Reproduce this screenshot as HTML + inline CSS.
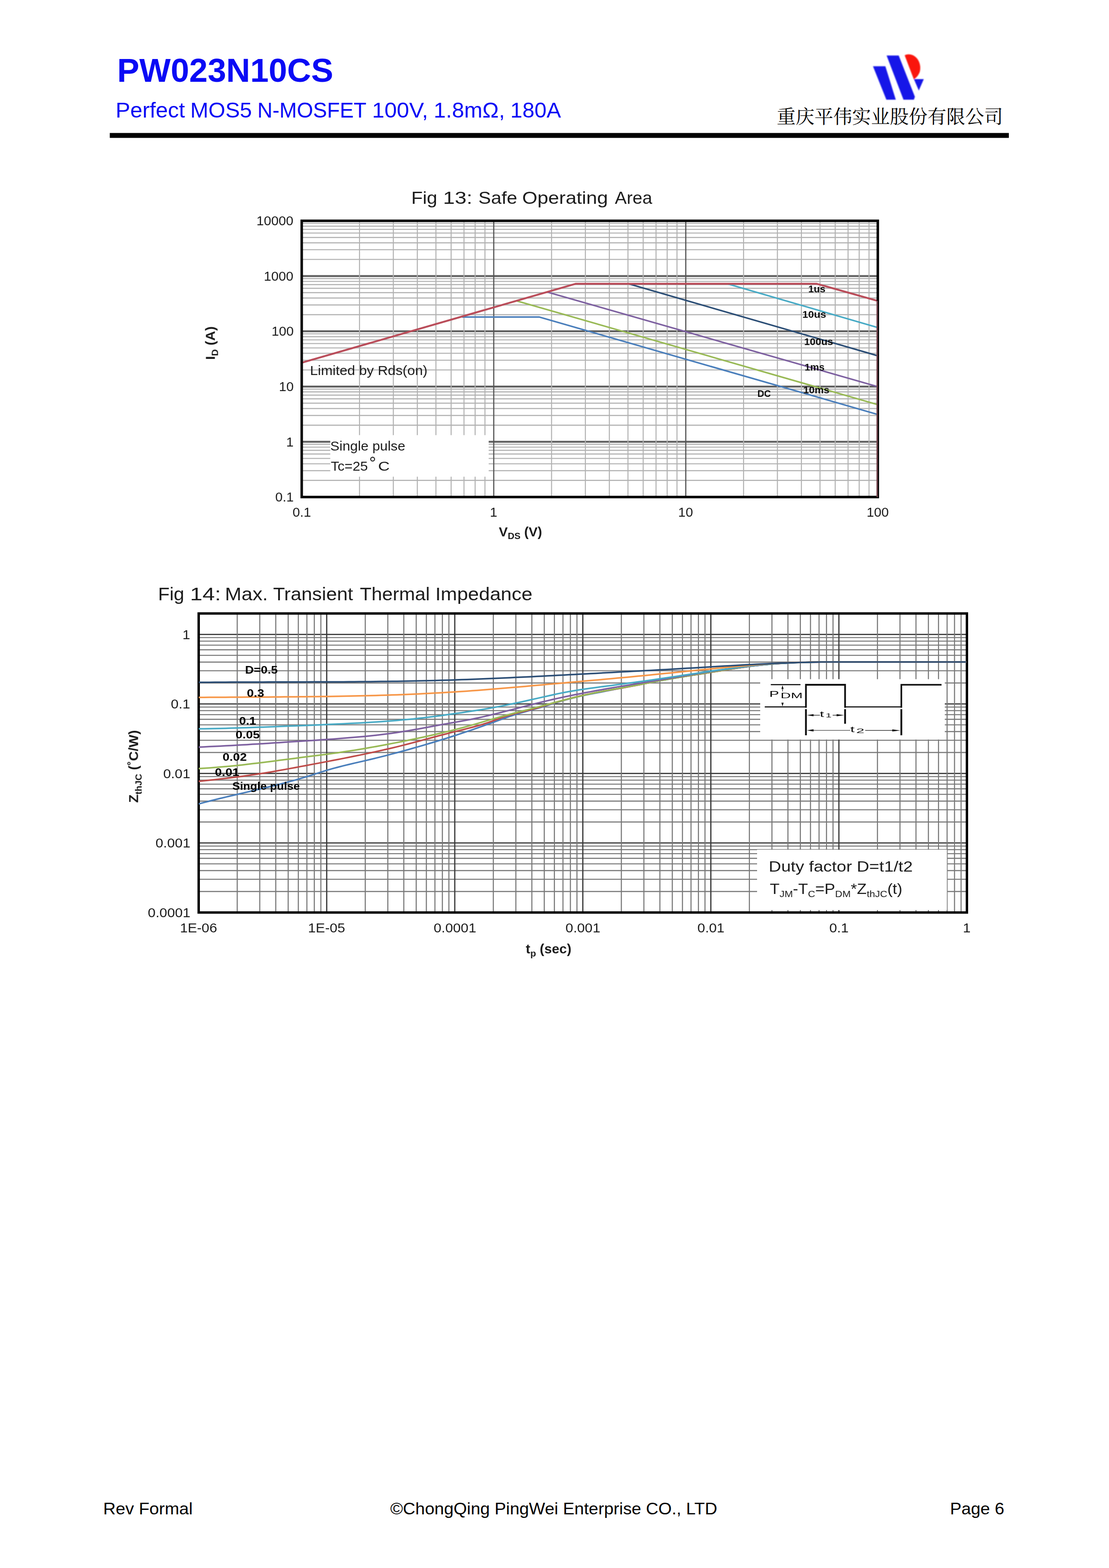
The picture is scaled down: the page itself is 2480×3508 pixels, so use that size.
<!DOCTYPE html>
<html><head><meta charset="utf-8"><title>PW023N10CS</title>
<style>
html,body{margin:0;padding:0;background:#fff;}
body{width:2480px;height:3508px;overflow:hidden;}
svg{display:block;font-family:'Liberation Sans',sans-serif;}
</style></head><body>
<svg width="2480" height="3508" viewBox="0 0 2480 3508">
<defs><filter id="soft" x="-2%" y="-2%" width="104%" height="104%"><feGaussianBlur stdDeviation="0.6"/></filter><filter id="soft2" x="-10%" y="-10%" width="120%" height="120%"><feGaussianBlur stdDeviation="0.9"/></filter></defs>
<rect width="2480" height="3508" fill="#fff"/>
<g id="header">
<text x="262.0" y="183.2" font-size="73.7" font-weight="bold" fill="#0a0af5" textLength="483.3" lengthAdjust="spacingAndGlyphs">PW023N10CS</text>
<text x="258.5" y="263.4" font-size="48.5" fill="#0a0af5" textLength="155.2" lengthAdjust="spacingAndGlyphs">Perfect</text>
<text x="425.6" y="263.4" font-size="48.5" fill="#0a0af5" textLength="137.8" lengthAdjust="spacingAndGlyphs">MOS5</text>
<text x="575.5" y="263.4" font-size="48.5" fill="#0a0af5" textLength="243.9" lengthAdjust="spacingAndGlyphs">N-MOSFET</text>
<text x="832.0" y="263.4" font-size="48.5" fill="#0a0af5" textLength="125.4" lengthAdjust="spacingAndGlyphs">100V,</text>
<text x="969.8" y="263.4" font-size="48.5" fill="#0a0af5" textLength="159.3" lengthAdjust="spacingAndGlyphs">1.8mΩ,</text>
<text x="1141.3" y="263.4" font-size="48.5" fill="#0a0af5" textLength="113.2" lengthAdjust="spacingAndGlyphs">180A</text>
<rect x="245.5" y="297.5" width="2010.5" height="11" fill="#000"/>
<g id="logo" filter="url(#soft2)">
<polygon points="1952.2,148.2 1979.9,148.2 2003.2,223.1 1982.1,223.1" fill="#1616e8"/>
<polygon points="1982.7,124.2 2009.8,124.2 2045.9,216.4 2043.7,223.1 2020.4,223.1" fill="#1616e8"/>
<path d="M2023.1,123.8 C2031,119.5 2042,121.5 2050,130 C2057,138 2059.5,150 2057,160 C2054.5,168 2049,174 2043.5,177.5 Z" fill="#fa1408"/>
<polygon points="2043.7,177.1 2065.8,177.1 2054.7,202.6" fill="#1616e8"/>
</g>
<g id="cn" fill="#000">
<text x="1737" y="276.2" font-size="42.15" fill="#000" textLength="505.8" lengthAdjust="spacingAndGlyphs" style="font-family:'Liberation Serif','Noto Serif CJK SC',serif;">重庆平伟实业股份有限公司</text>
</g>
</g>
<g id="chart1" filter="url(#soft)">
<text x="919.7" y="455.5" font-size="39.6" fill="#1a1a1a" textLength="58.2" lengthAdjust="spacingAndGlyphs">Fig</text>
<text x="990.7" y="455.5" font-size="39.6" fill="#1a1a1a" textLength="65.7" lengthAdjust="spacingAndGlyphs">13:</text>
<text x="1069.8" y="455.5" font-size="39.6" fill="#1a1a1a" textLength="86.8" lengthAdjust="spacingAndGlyphs">Safe</text>
<text x="1167.7" y="455.5" font-size="39.6" fill="#1a1a1a" textLength="192.0" lengthAdjust="spacingAndGlyphs">Operating</text>
<text x="1375.0" y="455.5" font-size="39.6" fill="#1a1a1a" textLength="83.6" lengthAdjust="spacingAndGlyphs">Area</text>
<path d="M674.7,1074.79H1963.0M674.7,1053.03H1963.0M674.7,1037.59H1963.0M674.7,1025.61H1963.0M674.7,1015.82H1963.0M674.7,1007.55H1963.0M674.7,1000.38H1963.0M674.7,994.06H1963.0M674.7,951.19H1963.0M674.7,929.43H1963.0M674.7,913.99H1963.0M674.7,902.01H1963.0M674.7,892.22H1963.0M674.7,883.95H1963.0M674.7,876.78H1963.0M674.7,870.46H1963.0M674.7,827.59H1963.0M674.7,805.83H1963.0M674.7,790.39H1963.0M674.7,778.41H1963.0M674.7,768.62H1963.0M674.7,760.35H1963.0M674.7,753.18H1963.0M674.7,746.86H1963.0M674.7,703.99H1963.0M674.7,682.23H1963.0M674.7,666.79H1963.0M674.7,654.81H1963.0M674.7,645.02H1963.0M674.7,636.75H1963.0M674.7,629.58H1963.0M674.7,623.26H1963.0M674.7,580.39H1963.0M674.7,558.63H1963.0M674.7,543.19H1963.0M674.7,531.21H1963.0M674.7,521.42H1963.0M674.7,513.15H1963.0M674.7,505.98H1963.0M674.7,499.66H1963.0" stroke="#b2b2b2" stroke-width="2.4" fill="none"/>
<path d="M674.7,988.40H1963.0M674.7,864.80H1963.0M674.7,741.20H1963.0M674.7,617.60H1963.0" stroke="#5e5e5e" stroke-width="4.2" fill="none"/>
<path d="M803.97,494.0V1112.0M879.59,494.0V1112.0M933.24,494.0V1112.0M974.86,494.0V1112.0M1008.86,494.0V1112.0M1037.61,494.0V1112.0M1062.52,494.0V1112.0M1084.48,494.0V1112.0M1233.41,494.0V1112.0M1309.03,494.0V1112.0M1362.68,494.0V1112.0M1404.29,494.0V1112.0M1438.30,494.0V1112.0M1467.05,494.0V1112.0M1491.95,494.0V1112.0M1513.92,494.0V1112.0M1662.84,494.0V1112.0M1738.46,494.0V1112.0M1792.11,494.0V1112.0M1833.73,494.0V1112.0M1867.73,494.0V1112.0M1896.48,494.0V1112.0M1921.38,494.0V1112.0M1943.35,494.0V1112.0" stroke="#b2b2b2" stroke-width="2.3" fill="none"/>
<path d="M1104.13,494.0V1112.0M1533.57,494.0V1112.0" stroke="#555" stroke-width="2.6" fill="none"/>
<rect x="738.6" y="973.5" width="354.2" height="93" fill="#fff"/>
<polyline points="1033.5,709.2 1205.5,709.2 1963.0,927.3" stroke="#4a7ebb" stroke-width="3.4" fill="none" stroke-linejoin="round"/>
<polyline points="1156.0,673.3 1963.0,905.3" stroke="#98b954" stroke-width="3.4" fill="none" stroke-linejoin="round"/>
<polyline points="1224.5,653.6 1963.0,865.1" stroke="#7d60a0" stroke-width="3.4" fill="none" stroke-linejoin="round"/>
<polyline points="1626.4,634.9 1963.0,732.8" stroke="#46aac5" stroke-width="3.4" fill="none" stroke-linejoin="round"/>
<polyline points="1405.5,634.9 1963.0,796.0" stroke="#2c4d75" stroke-width="3.4" fill="none" stroke-linejoin="round"/>
<polyline points="674.7,811.5 1287.0,634.9 1826.6,634.9 1963.0,673.2" stroke="#ba4e5a" stroke-width="4.2" fill="none" stroke-linejoin="round"/>
<rect x="674.7" y="494.0" width="1288.3" height="618.0" fill="none" stroke="#000" stroke-width="5.6"/>
<path d="M1961.6,673V1112.0" stroke="#78464f" stroke-width="2.9" fill="none"/>
<text x="615.5" y="1122.2" font-size="29" fill="#1a1a1a" textLength="41.4" lengthAdjust="spacingAndGlyphs">0.1</text>
<text x="640.1" y="998.6" font-size="29" fill="#1a1a1a" textLength="16.6" lengthAdjust="spacingAndGlyphs">1</text>
<text x="623.7" y="875.0" font-size="29" fill="#1a1a1a" textLength="33.1" lengthAdjust="spacingAndGlyphs">10</text>
<text x="607.3" y="751.4" font-size="29" fill="#1a1a1a" textLength="49.6" lengthAdjust="spacingAndGlyphs">100</text>
<text x="589.9" y="627.8" font-size="29" fill="#1a1a1a" textLength="66.2" lengthAdjust="spacingAndGlyphs">1000</text>
<text x="573.4" y="504.2" font-size="29" fill="#1a1a1a" textLength="82.7" lengthAdjust="spacingAndGlyphs">10000</text>
<text x="654.2" y="1155.8" font-size="29" fill="#1a1a1a" textLength="41.4" lengthAdjust="spacingAndGlyphs">0.1</text>
<text x="1095.4" y="1155.8" font-size="29" fill="#1a1a1a" textLength="16.6" lengthAdjust="spacingAndGlyphs">1</text>
<text x="1516.6" y="1155.8" font-size="29" fill="#1a1a1a" textLength="33.1" lengthAdjust="spacingAndGlyphs">10</text>
<text x="1937.9" y="1155.8" font-size="29" fill="#1a1a1a" textLength="49.6" lengthAdjust="spacingAndGlyphs">100</text>
<text transform="translate(480.5,803) rotate(-90)" x="-2.1" y="0" font-size="29.8" font-weight="bold" fill="#1a1a1a" textLength="75.0" lengthAdjust="spacingAndGlyphs">I<tspan font-size="20.5" dy="7">D</tspan><tspan dy="-7"> (A)</tspan></text>
<text x="1115.5" y="1199.8" font-size="29.8" font-weight="bold" fill="#1a1a1a" textLength="96.6" lengthAdjust="spacingAndGlyphs">V<tspan font-size="20.5" dy="6.5">DS</tspan><tspan dy="-6.5"> (V)</tspan></text>
<text x="693.3" y="838.5" font-size="30" fill="#1a1a1a" textLength="262.7" lengthAdjust="spacingAndGlyphs">Limited by Rds(on)</text>
<text x="738.6" y="1008" font-size="30" fill="#1a1a1a" textLength="167.7" lengthAdjust="spacingAndGlyphs">Single pulse</text>
<text x="739.7" y="1052.6" font-size="30" fill="#1a1a1a" textLength="82.9" lengthAdjust="spacingAndGlyphs">Tc=25</text>
<text x="845.5" y="1052.6" font-size="30" fill="#1a1a1a" textLength="26.0" lengthAdjust="spacingAndGlyphs">C</text>
<circle cx="833.3" cy="1027.2" r="4.3" fill="none" stroke="#1a1a1a" stroke-width="2.2"/>
<text x="1807.4" y="653.9" font-size="22.5" font-weight="bold" fill="#111" textLength="38.4" lengthAdjust="spacingAndGlyphs">1us</text>
<text x="1794.2" y="710.8" font-size="22.5" font-weight="bold" fill="#111" textLength="53.2" lengthAdjust="spacingAndGlyphs">10us</text>
<text x="1798.3" y="771.8" font-size="22.5" font-weight="bold" fill="#111" textLength="64.8" lengthAdjust="spacingAndGlyphs">100us</text>
<text x="1799.3" y="829.4" font-size="22.5" font-weight="bold" fill="#111" textLength="44.7" lengthAdjust="spacingAndGlyphs">1ms</text>
<text x="1796.3" y="880.2" font-size="22.5" font-weight="bold" fill="#111" textLength="58.5" lengthAdjust="spacingAndGlyphs">10ms</text>
<text x="1693.7" y="887.7" font-size="22.5" font-weight="bold" fill="#111" textLength="30.2" lengthAdjust="spacingAndGlyphs">DC</text>
</g>
<g id="chart2" filter="url(#soft)">
<text x="353.4" y="1342.7" font-size="40" fill="#1a1a1a" textLength="58.6" lengthAdjust="spacingAndGlyphs">Fig</text>
<text x="425.0" y="1342.7" font-size="40" fill="#1a1a1a" textLength="69.2" lengthAdjust="spacingAndGlyphs">14:</text>
<text x="503.1" y="1342.7" font-size="40" fill="#1a1a1a" textLength="96.1" lengthAdjust="spacingAndGlyphs">Max.</text>
<text x="610.7" y="1342.7" font-size="40" fill="#1a1a1a" textLength="178.9" lengthAdjust="spacingAndGlyphs">Transient</text>
<text x="804.8" y="1342.7" font-size="40" fill="#1a1a1a" textLength="156.4" lengthAdjust="spacingAndGlyphs">Thermal</text>
<text x="973.4" y="1342.7" font-size="40" fill="#1a1a1a" textLength="217.3" lengthAdjust="spacingAndGlyphs">Impedance</text>
<path d="M444.3,1994.49H2162.3M444.3,1967.11H2162.3M444.3,1947.68H2162.3M444.3,1932.61H2162.3M444.3,1920.30H2162.3M444.3,1909.89H2162.3M444.3,1900.87H2162.3M444.3,1892.92H2162.3M444.3,1838.99H2162.3M444.3,1811.61H2162.3M444.3,1792.18H2162.3M444.3,1777.11H2162.3M444.3,1764.80H2162.3M444.3,1754.39H2162.3M444.3,1745.37H2162.3M444.3,1737.42H2162.3M444.3,1683.49H2162.3M444.3,1656.11H2162.3M444.3,1636.68H2162.3M444.3,1621.61H2162.3M444.3,1609.30H2162.3M444.3,1598.89H2162.3M444.3,1589.87H2162.3M444.3,1581.92H2162.3M444.3,1527.99H2162.3M444.3,1500.61H2162.3M444.3,1481.18H2162.3M444.3,1466.11H2162.3M444.3,1453.80H2162.3M444.3,1443.39H2162.3M444.3,1434.37H2162.3M444.3,1426.42H2162.3" stroke="#787878" stroke-width="2.4" fill="none"/>
<path d="M444.3,1419.30H2162.3M444.3,1574.80H2162.3M444.3,1730.30H2162.3M444.3,1885.80H2162.3" stroke="#3c3c3c" stroke-width="2.8" fill="none"/>
<path d="M530.49,1372.5V2041.5M580.92,1372.5V2041.5M616.69,1372.5V2041.5M644.44,1372.5V2041.5M667.11,1372.5V2041.5M686.28,1372.5V2041.5M702.88,1372.5V2041.5M717.53,1372.5V2041.5M816.83,1372.5V2041.5M867.25,1372.5V2041.5M903.02,1372.5V2041.5M930.77,1372.5V2041.5M953.44,1372.5V2041.5M972.61,1372.5V2041.5M989.22,1372.5V2041.5M1003.86,1372.5V2041.5M1103.16,1372.5V2041.5M1153.58,1372.5V2041.5M1189.36,1372.5V2041.5M1217.11,1372.5V2041.5M1239.78,1372.5V2041.5M1258.95,1372.5V2041.5M1275.55,1372.5V2041.5M1290.20,1372.5V2041.5M1389.49,1372.5V2041.5M1439.92,1372.5V2041.5M1475.69,1372.5V2041.5M1503.44,1372.5V2041.5M1526.11,1372.5V2041.5M1545.28,1372.5V2041.5M1561.88,1372.5V2041.5M1576.53,1372.5V2041.5M1675.83,1372.5V2041.5M1726.25,1372.5V2041.5M1762.02,1372.5V2041.5M1789.77,1372.5V2041.5M1812.44,1372.5V2041.5M1831.61,1372.5V2041.5M1848.22,1372.5V2041.5M1862.86,1372.5V2041.5M1962.16,1372.5V2041.5M2012.58,1372.5V2041.5M2048.36,1372.5V2041.5M2076.11,1372.5V2041.5M2098.78,1372.5V2041.5M2117.95,1372.5V2041.5M2134.55,1372.5V2041.5M2149.20,1372.5V2041.5" stroke="#787878" stroke-width="2.4" fill="none"/>
<path d="M730.63,1372.5V2041.5M1016.97,1372.5V2041.5M1303.30,1372.5V2041.5M1589.63,1372.5V2041.5M1875.97,1372.5V2041.5" stroke="#3c3c3c" stroke-width="2.8" fill="none"/>
<rect x="1700" y="1519.5" width="412.8" height="135" fill="#fff"/>
<rect x="1693" y="1901" width="424.5" height="135" fill="#fff"/>
<rect x="444.3" y="1372.5" width="1718.0000000000002" height="669.0" fill="none" stroke="#000" stroke-width="5.4"/>
<path d="M444.3,1798.6 L456.3,1795.4 L468.3,1792.3 L480.3,1789.3 L492.3,1786.3 L504.3,1783.4 L516.3,1780.5 L528.3,1777.7 L540.3,1774.9 L552.3,1772.1 L564.3,1769.2 L576.3,1766.4 L588.3,1763.6 L600.3,1760.7 L612.3,1757.7 L624.3,1754.7 L636.3,1751.6 L648.3,1748.4 L660.3,1745.1 L672.3,1741.6 L684.3,1738.0 L696.3,1734.3 L708.3,1730.4 L720.3,1726.6 L732.3,1722.9 L744.3,1719.4 L756.3,1716.2 L768.3,1713.1 L780.3,1710.2 L792.3,1707.4 L804.3,1704.6 L816.3,1701.9 L828.3,1699.0 L840.3,1696.1 L852.3,1693.1 L864.3,1690.1 L876.3,1686.9 L888.3,1683.8 L900.3,1680.5 L912.3,1677.2 L924.3,1673.8 L936.3,1670.4 L948.3,1666.9 L960.3,1663.3 L972.3,1659.7 L984.3,1656.0 L996.3,1652.3 L1008.3,1648.5 L1020.3,1644.6 L1032.3,1640.6 L1044.3,1636.6 L1056.3,1632.6 L1068.3,1628.4 L1080.3,1624.2 L1092.3,1619.9 L1104.3,1615.6 L1116.3,1611.2 L1128.3,1606.8 L1140.3,1602.6 L1152.3,1598.7 L1164.3,1595.1 L1176.3,1591.7 L1188.3,1588.4 L1200.3,1585.1 L1212.3,1581.8 L1224.3,1578.1 L1236.3,1574.4 L1248.3,1570.6 L1260.3,1567.0 L1272.3,1563.7 L1284.3,1560.7 L1296.3,1557.9 L1308.3,1555.3 L1320.3,1552.9 L1332.3,1550.5 L1344.3,1548.2 L1356.3,1545.8 L1368.3,1543.5 L1380.3,1541.1 L1392.3,1538.8 L1404.3,1536.4 L1416.3,1534.1 L1428.3,1531.8 L1440.3,1529.5 L1452.3,1527.2 L1464.3,1525.0 L1476.3,1522.8 L1488.3,1520.7 L1500.3,1518.6 L1512.3,1516.6 L1524.3,1514.6 L1536.3,1512.6 L1548.3,1510.6 L1560.3,1508.7 L1572.3,1506.7 L1584.3,1504.8 L1596.3,1502.8 L1608.3,1500.9 L1620.3,1499.0 L1632.3,1497.1 L1644.3,1495.2 L1656.3,1493.5 L1668.3,1491.8 L1680.3,1490.2 L1692.3,1488.8 L1704.3,1487.5 L1716.3,1486.4 L1728.3,1485.4 L1740.3,1484.5 L1752.3,1483.8 L1764.3,1483.2 L1776.3,1482.6 L1788.3,1482.2 L1800.3,1481.9 L1812.3,1481.6 L1824.3,1481.4 L1836.3,1481.2 L1848.3,1481.1 L1860.0,1481.0 L2160.5,1481.0" stroke="#4a7ebb" stroke-width="3.5" fill="none" stroke-linejoin="round"/>
<path d="M444.3,1748.1 L456.3,1746.8 L468.3,1745.5 L480.3,1744.2 L492.3,1742.8 L504.3,1741.4 L516.3,1740.0 L528.3,1738.5 L540.3,1736.9 L552.3,1735.3 L564.3,1733.6 L576.3,1731.8 L588.3,1729.9 L600.3,1727.9 L612.3,1725.9 L624.3,1723.8 L636.3,1721.6 L648.3,1719.4 L660.3,1717.2 L672.3,1714.9 L684.3,1712.7 L696.3,1710.4 L708.3,1708.1 L720.3,1705.9 L732.3,1703.6 L744.3,1701.3 L756.3,1699.0 L768.3,1696.6 L780.3,1694.2 L792.3,1691.8 L804.3,1689.4 L816.3,1686.9 L828.3,1684.3 L840.3,1681.7 L852.3,1679.0 L864.3,1676.3 L876.3,1673.5 L888.3,1670.6 L900.3,1667.6 L912.3,1664.5 L924.3,1661.4 L936.3,1658.2 L948.3,1654.9 L960.3,1651.7 L972.3,1648.5 L984.3,1645.3 L996.3,1642.2 L1008.3,1639.1 L1020.3,1636.1 L1032.3,1633.2 L1044.3,1630.1 L1056.3,1627.0 L1068.3,1623.7 L1080.3,1620.2 L1092.3,1616.3 L1104.3,1612.1 L1116.3,1607.6 L1128.3,1603.4 L1140.3,1599.7 L1152.3,1596.4 L1164.3,1593.4 L1176.3,1590.4 L1188.3,1587.3 L1200.3,1584.0 L1212.3,1580.5 L1224.3,1576.9 L1236.3,1573.3 L1248.3,1569.8 L1260.3,1566.5 L1272.3,1563.3 L1284.3,1560.2 L1296.3,1557.3 L1308.3,1554.5 L1320.3,1551.9 L1332.3,1549.4 L1344.3,1547.1 L1356.3,1545.0 L1368.3,1543.0 L1380.3,1541.0 L1392.3,1539.0 L1404.3,1536.9 L1416.3,1534.6 L1428.3,1532.2 L1440.3,1529.7 L1452.3,1527.3 L1464.3,1524.9 L1476.3,1522.6 L1488.3,1520.3 L1500.3,1518.2 L1512.3,1516.2 L1524.3,1514.3 L1536.3,1512.4 L1548.3,1510.5 L1560.3,1508.7 L1572.3,1506.9 L1584.3,1505.0 L1596.3,1503.1 L1608.3,1501.2 L1620.3,1499.2 L1632.3,1497.3 L1644.3,1495.4 L1656.3,1493.6 L1668.3,1491.9 L1680.3,1490.2 L1692.3,1488.8 L1704.3,1487.4 L1716.3,1486.3 L1728.3,1485.3 L1740.3,1484.4 L1752.3,1483.7 L1764.3,1483.1 L1776.3,1482.6 L1788.3,1482.2 L1800.3,1481.9 L1812.3,1481.6 L1824.3,1481.4 L1836.3,1481.2 L1848.3,1481.1 L1860.0,1481.0 L2160.5,1481.0" stroke="#be4b48" stroke-width="3.5" fill="none" stroke-linejoin="round"/>
<path d="M444.3,1719.4 L456.3,1718.8 L468.3,1718.0 L480.3,1717.1 L492.3,1716.1 L504.3,1715.1 L516.3,1713.9 L528.3,1712.7 L540.3,1711.4 L552.3,1710.1 L564.3,1708.6 L576.3,1707.2 L588.3,1705.7 L600.3,1704.2 L612.3,1702.7 L624.3,1701.1 L636.3,1699.5 L648.3,1698.0 L660.3,1696.4 L672.3,1694.8 L684.3,1693.3 L696.3,1691.8 L708.3,1690.3 L720.3,1688.8 L732.3,1687.2 L744.3,1685.6 L756.3,1683.9 L768.3,1682.1 L780.3,1680.3 L792.3,1678.4 L804.3,1676.4 L816.3,1674.4 L828.3,1672.3 L840.3,1670.2 L852.3,1668.0 L864.3,1665.7 L876.3,1663.4 L888.3,1661.1 L900.3,1658.7 L912.3,1656.3 L924.3,1653.8 L936.3,1651.3 L948.3,1648.7 L960.3,1646.0 L972.3,1643.3 L984.3,1640.5 L996.3,1637.6 L1008.3,1634.7 L1020.3,1631.6 L1032.3,1628.5 L1044.3,1625.2 L1056.3,1621.9 L1068.3,1618.4 L1080.3,1614.9 L1092.3,1611.4 L1104.3,1607.9 L1116.3,1604.5 L1128.3,1601.2 L1140.3,1598.0 L1152.3,1594.8 L1164.3,1591.7 L1176.3,1588.7 L1188.3,1585.6 L1200.3,1582.4 L1212.3,1579.2 L1224.3,1576.0 L1236.3,1572.8 L1248.3,1569.6 L1260.3,1566.5 L1272.3,1563.4 L1284.3,1560.5 L1296.3,1557.6 L1308.3,1554.8 L1320.3,1552.1 L1332.3,1549.5 L1344.3,1547.1 L1356.3,1544.9 L1368.3,1542.7 L1380.3,1540.6 L1392.3,1538.6 L1404.3,1536.4 L1416.3,1534.2 L1428.3,1532.0 L1440.3,1529.7 L1452.3,1527.4 L1464.3,1525.1 L1476.3,1522.9 L1488.3,1520.7 L1500.3,1518.6 L1512.3,1516.5 L1524.3,1514.5 L1536.3,1512.5 L1548.3,1510.6 L1560.3,1508.6 L1572.3,1506.7 L1584.3,1504.7 L1596.3,1502.8 L1608.3,1500.9 L1620.3,1499.0 L1632.3,1497.1 L1644.3,1495.2 L1656.3,1493.5 L1668.3,1491.8 L1680.3,1490.3 L1692.3,1488.8 L1704.3,1487.5 L1716.3,1486.4 L1728.3,1485.4 L1740.3,1484.5 L1752.3,1483.8 L1764.3,1483.2 L1776.3,1482.6 L1788.3,1482.2 L1800.3,1481.8 L1812.3,1481.5 L1824.3,1481.3 L1836.3,1481.2 L1848.3,1481.1 L1860.0,1481.0 L2160.5,1481.0" stroke="#98b954" stroke-width="3.5" fill="none" stroke-linejoin="round"/>
<path d="M444.3,1671.4 L456.3,1670.9 L468.3,1670.3 L480.3,1669.8 L492.3,1669.2 L504.3,1668.5 L516.3,1667.9 L528.3,1667.2 L540.3,1666.6 L552.3,1665.9 L564.3,1665.1 L576.3,1664.4 L588.3,1663.7 L600.3,1662.9 L612.3,1662.1 L624.3,1661.4 L636.3,1660.6 L648.3,1659.8 L660.3,1659.0 L672.3,1658.2 L684.3,1657.4 L696.3,1656.7 L708.3,1655.9 L720.3,1655.1 L732.3,1654.3 L744.3,1653.4 L756.3,1652.5 L768.3,1651.6 L780.3,1650.6 L792.3,1649.6 L804.3,1648.5 L816.3,1647.4 L828.3,1646.2 L840.3,1644.9 L852.3,1643.5 L864.3,1642.0 L876.3,1640.4 L888.3,1638.7 L900.3,1636.8 L912.3,1634.9 L924.3,1632.8 L936.3,1630.7 L948.3,1628.5 L960.3,1626.2 L972.3,1624.0 L984.3,1621.8 L996.3,1619.6 L1008.3,1617.5 L1020.3,1615.4 L1032.3,1613.3 L1044.3,1611.1 L1056.3,1608.7 L1068.3,1606.2 L1080.3,1603.6 L1092.3,1600.8 L1104.3,1597.9 L1116.3,1595.0 L1128.3,1591.9 L1140.3,1588.9 L1152.3,1585.8 L1164.3,1582.6 L1176.3,1579.5 L1188.3,1576.5 L1200.3,1573.4 L1212.3,1570.5 L1224.3,1567.6 L1236.3,1564.8 L1248.3,1562.1 L1260.3,1559.5 L1272.3,1557.0 L1284.3,1554.5 L1296.3,1552.2 L1308.3,1549.8 L1320.3,1547.6 L1332.3,1545.3 L1344.3,1543.2 L1356.3,1541.0 L1368.3,1539.0 L1380.3,1536.9 L1392.3,1534.9 L1404.3,1532.9 L1416.3,1530.9 L1428.3,1528.9 L1440.3,1526.9 L1452.3,1524.9 L1464.3,1522.9 L1476.3,1520.9 L1488.3,1518.9 L1500.3,1516.9 L1512.3,1514.9 L1524.3,1512.9 L1536.3,1510.9 L1548.3,1509.0 L1560.3,1507.0 L1572.3,1505.1 L1584.3,1503.2 L1596.3,1501.4 L1608.3,1499.6 L1620.3,1497.8 L1632.3,1496.1 L1644.3,1494.5 L1656.3,1493.0 L1668.3,1491.5 L1680.3,1490.1 L1692.3,1488.9 L1704.3,1487.7 L1716.3,1486.6 L1728.3,1485.6 L1740.3,1484.7 L1752.3,1483.9 L1764.3,1483.2 L1776.3,1482.6 L1788.3,1482.1 L1800.3,1481.7 L1812.3,1481.4 L1824.3,1481.1 L1836.3,1481.0 L1848.3,1481.0 L1860.0,1481.0 L2160.5,1481.0" stroke="#7d60a0" stroke-width="3.5" fill="none" stroke-linejoin="round"/>
<path d="M444.3,1630.6 L456.3,1630.4 L468.3,1630.2 L480.3,1629.9 L492.3,1629.7 L504.3,1629.4 L516.3,1629.0 L528.3,1628.7 L540.3,1628.3 L552.3,1627.9 L564.3,1627.5 L576.3,1627.1 L588.3,1626.7 L600.3,1626.2 L612.3,1625.8 L624.3,1625.3 L636.3,1624.8 L648.3,1624.3 L660.3,1623.9 L672.3,1623.4 L684.3,1622.9 L696.3,1622.4 L708.3,1621.9 L720.3,1621.4 L732.3,1620.8 L744.3,1620.3 L756.3,1619.8 L768.3,1619.2 L780.3,1618.6 L792.3,1618.0 L804.3,1617.4 L816.3,1616.7 L828.3,1616.0 L840.3,1615.2 L852.3,1614.4 L864.3,1613.6 L876.3,1612.7 L888.3,1611.7 L900.3,1610.6 L912.3,1609.5 L924.3,1608.4 L936.3,1607.1 L948.3,1605.8 L960.3,1604.3 L972.3,1602.8 L984.3,1601.2 L996.3,1599.5 L1008.3,1597.8 L1020.3,1596.1 L1032.3,1594.4 L1044.3,1592.6 L1056.3,1590.8 L1068.3,1589.0 L1080.3,1587.0 L1092.3,1585.0 L1104.3,1582.9 L1116.3,1580.6 L1128.3,1578.3 L1140.3,1575.8 L1152.3,1573.3 L1164.3,1570.7 L1176.3,1568.0 L1188.3,1565.3 L1200.3,1562.6 L1212.3,1559.9 L1224.3,1557.2 L1236.3,1554.5 L1248.3,1551.9 L1260.3,1549.5 L1272.3,1547.3 L1284.3,1545.2 L1296.3,1543.3 L1308.3,1541.5 L1320.3,1539.8 L1332.3,1538.2 L1344.3,1536.6 L1356.3,1535.0 L1368.3,1533.4 L1380.3,1531.8 L1392.3,1530.2 L1404.3,1528.6 L1416.3,1527.0 L1428.3,1525.3 L1440.3,1523.7 L1452.3,1522.0 L1464.3,1520.3 L1476.3,1518.5 L1488.3,1516.8 L1500.3,1515.0 L1512.3,1513.2 L1524.3,1511.3 L1536.3,1509.5 L1548.3,1507.7 L1560.3,1505.9 L1572.3,1504.1 L1584.3,1502.3 L1596.3,1500.5 L1608.3,1498.8 L1620.3,1497.2 L1632.3,1495.6 L1644.3,1494.0 L1656.3,1492.6 L1668.3,1491.1 L1680.3,1489.8 L1692.3,1488.6 L1704.3,1487.5 L1716.3,1486.4 L1728.3,1485.5 L1740.3,1484.6 L1752.3,1483.9 L1764.3,1483.2 L1776.3,1482.6 L1788.3,1482.1 L1800.3,1481.7 L1812.3,1481.4 L1824.3,1481.2 L1836.3,1481.0 L1848.3,1481.0 L1860.0,1481.0 L2160.5,1481.0" stroke="#46aac5" stroke-width="3.5" fill="none" stroke-linejoin="round"/>
<path d="M444.3,1560.3 L456.3,1560.2 L468.3,1560.1 L480.3,1560.0 L492.3,1559.9 L504.3,1559.9 L516.3,1559.8 L528.3,1559.7 L540.3,1559.7 L552.3,1559.6 L564.3,1559.6 L576.3,1559.5 L588.3,1559.4 L600.3,1559.4 L612.3,1559.3 L624.3,1559.2 L636.3,1559.1 L648.3,1559.1 L660.3,1559.0 L672.3,1558.8 L684.3,1558.7 L696.3,1558.6 L708.3,1558.5 L720.3,1558.3 L732.3,1558.2 L744.3,1558.0 L756.3,1557.8 L768.3,1557.6 L780.3,1557.3 L792.3,1557.1 L804.3,1556.8 L816.3,1556.5 L828.3,1556.2 L840.3,1555.9 L852.3,1555.6 L864.3,1555.2 L876.3,1554.8 L888.3,1554.4 L900.3,1553.9 L912.3,1553.4 L924.3,1552.9 L936.3,1552.4 L948.3,1551.8 L960.3,1551.3 L972.3,1550.6 L984.3,1550.0 L996.3,1549.3 L1008.3,1548.5 L1020.3,1547.8 L1032.3,1547.0 L1044.3,1546.2 L1056.3,1545.3 L1068.3,1544.4 L1080.3,1543.5 L1092.3,1542.5 L1104.3,1541.6 L1116.3,1540.6 L1128.3,1539.6 L1140.3,1538.6 L1152.3,1537.5 L1164.3,1536.5 L1176.3,1535.4 L1188.3,1534.3 L1200.3,1533.3 L1212.3,1532.2 L1224.3,1531.1 L1236.3,1530.1 L1248.3,1529.0 L1260.3,1527.9 L1272.3,1526.8 L1284.3,1525.8 L1296.3,1524.7 L1308.3,1523.6 L1320.3,1522.6 L1332.3,1521.5 L1344.3,1520.4 L1356.3,1519.3 L1368.3,1518.2 L1380.3,1517.1 L1392.3,1516.0 L1404.3,1514.9 L1416.3,1513.7 L1428.3,1512.6 L1440.3,1511.4 L1452.3,1510.2 L1464.3,1509.0 L1476.3,1507.8 L1488.3,1506.6 L1500.3,1505.4 L1512.3,1504.2 L1524.3,1503.0 L1536.3,1501.8 L1548.3,1500.5 L1560.3,1499.3 L1572.3,1498.1 L1584.3,1496.9 L1596.3,1495.7 L1608.3,1494.6 L1620.3,1493.4 L1632.3,1492.3 L1644.3,1491.2 L1656.3,1490.2 L1668.3,1489.2 L1680.3,1488.2 L1692.3,1487.3 L1704.3,1486.4 L1716.3,1485.5 L1728.3,1484.8 L1740.3,1484.0 L1752.3,1483.4 L1764.3,1482.8 L1776.3,1482.3 L1788.3,1481.8 L1800.3,1481.5 L1812.3,1481.2 L1824.3,1481.0 L1836.3,1481.0 L1848.3,1481.0 L1860.0,1481.0 L2160.5,1481.0" stroke="#f79646" stroke-width="3.5" fill="none" stroke-linejoin="round"/>
<path d="M444.3,1526.6 L456.3,1526.5 L468.3,1526.4 L480.3,1526.3 L492.3,1526.2 L504.3,1526.2 L516.3,1526.1 L528.3,1526.1 L540.3,1526.0 L552.3,1526.0 L564.3,1525.9 L576.3,1525.9 L588.3,1525.9 L600.3,1525.8 L612.3,1525.8 L624.3,1525.8 L636.3,1525.8 L648.3,1525.7 L660.3,1525.7 L672.3,1525.7 L684.3,1525.7 L696.3,1525.6 L708.3,1525.6 L720.3,1525.6 L732.3,1525.5 L744.3,1525.5 L756.3,1525.4 L768.3,1525.4 L780.3,1525.3 L792.3,1525.2 L804.3,1525.1 L816.3,1525.0 L828.3,1524.9 L840.3,1524.8 L852.3,1524.6 L864.3,1524.5 L876.3,1524.3 L888.3,1524.2 L900.3,1524.0 L912.3,1523.8 L924.3,1523.5 L936.3,1523.3 L948.3,1523.0 L960.3,1522.7 L972.3,1522.4 L984.3,1522.1 L996.3,1521.8 L1008.3,1521.4 L1020.3,1521.0 L1032.3,1520.6 L1044.3,1520.2 L1056.3,1519.8 L1068.3,1519.3 L1080.3,1518.8 L1092.3,1518.3 L1104.3,1517.8 L1116.3,1517.3 L1128.3,1516.7 L1140.3,1516.2 L1152.3,1515.6 L1164.3,1515.0 L1176.3,1514.5 L1188.3,1513.9 L1200.3,1513.3 L1212.3,1512.7 L1224.3,1512.1 L1236.3,1511.4 L1248.3,1510.8 L1260.3,1510.2 L1272.3,1509.6 L1284.3,1508.9 L1296.3,1508.3 L1308.3,1507.7 L1320.3,1507.0 L1332.3,1506.4 L1344.3,1505.7 L1356.3,1505.1 L1368.3,1504.4 L1380.3,1503.8 L1392.3,1503.1 L1404.3,1502.5 L1416.3,1501.8 L1428.3,1501.2 L1440.3,1500.5 L1452.3,1499.9 L1464.3,1499.2 L1476.3,1498.5 L1488.3,1497.9 L1500.3,1497.2 L1512.3,1496.5 L1524.3,1495.8 L1536.3,1495.1 L1548.3,1494.4 L1560.3,1493.7 L1572.3,1492.9 L1584.3,1492.2 L1596.3,1491.5 L1608.3,1490.8 L1620.3,1490.1 L1632.3,1489.4 L1644.3,1488.7 L1656.3,1488.0 L1668.3,1487.3 L1680.3,1486.7 L1692.3,1486.0 L1704.3,1485.4 L1716.3,1484.9 L1728.3,1484.3 L1740.3,1483.8 L1752.3,1483.3 L1764.3,1482.9 L1776.3,1482.4 L1788.3,1482.1 L1800.3,1481.7 L1812.3,1481.5 L1824.3,1481.2 L1836.3,1481.0 L1848.3,1481.0 L1860.0,1481.0 L2160.5,1481.0" stroke="#2c4d75" stroke-width="3.5" fill="none" stroke-linejoin="round"/>
<text x="407.9" y="1429.5" font-size="29" fill="#1a1a1a" textLength="17.3" lengthAdjust="spacingAndGlyphs">1</text>
<text x="382.1" y="1585.0" font-size="29" fill="#1a1a1a" textLength="43.3" lengthAdjust="spacingAndGlyphs">0.1</text>
<text x="364.9" y="1740.5" font-size="29" fill="#1a1a1a" textLength="60.6" lengthAdjust="spacingAndGlyphs">0.01</text>
<text x="347.8" y="1896.0" font-size="29" fill="#1a1a1a" textLength="77.9" lengthAdjust="spacingAndGlyphs">0.001</text>
<text x="330.6" y="2051.5" font-size="29" fill="#1a1a1a" textLength="95.3" lengthAdjust="spacingAndGlyphs">0.0001</text>
<text x="402.4" y="2086.4" font-size="29" fill="#1a1a1a" textLength="83.1" lengthAdjust="spacingAndGlyphs">1E-06</text>
<text x="688.8" y="2086.4" font-size="29" fill="#1a1a1a" textLength="83.1" lengthAdjust="spacingAndGlyphs">1E-05</text>
<text x="969.7" y="2086.4" font-size="29" fill="#1a1a1a" textLength="95.3" lengthAdjust="spacingAndGlyphs">0.0001</text>
<text x="1264.6" y="2086.4" font-size="29" fill="#1a1a1a" textLength="77.9" lengthAdjust="spacingAndGlyphs">0.001</text>
<text x="1559.6" y="2086.4" font-size="29" fill="#1a1a1a" textLength="60.6" lengthAdjust="spacingAndGlyphs">0.01</text>
<text x="1854.5" y="2086.4" font-size="29" fill="#1a1a1a" textLength="43.3" lengthAdjust="spacingAndGlyphs">0.1</text>
<text x="2153.2" y="2086.4" font-size="29" fill="#1a1a1a" textLength="17.3" lengthAdjust="spacingAndGlyphs">1</text>
<text transform="translate(308.8,1795) rotate(-90)" x="-1.0" y="0" font-size="29.8" font-weight="bold" fill="#1a1a1a" textLength="162.5" lengthAdjust="spacingAndGlyphs">Z<tspan font-size="20.5" dy="7.5">thJC</tspan><tspan dy="-7.5"> (˚C/W)</tspan></text>
<text x="1175.8" y="2133.3" font-size="29.8" font-weight="bold" fill="#1a1a1a" textLength="102.0" lengthAdjust="spacingAndGlyphs">t<tspan font-size="20.5" dy="6.5">p</tspan><tspan dy="-6.5"> (sec)</tspan></text>
<text x="547.9" y="1507.3" font-size="24.5" font-weight="bold" textLength="73.1" lengthAdjust="spacingAndGlyphs">D=0.5</text>
<text x="551.9" y="1559.3" font-size="24.5" font-weight="bold" textLength="39.0" lengthAdjust="spacingAndGlyphs">0.3</text>
<text x="534.7" y="1620.7" font-size="24.5" font-weight="bold" textLength="38.2" lengthAdjust="spacingAndGlyphs">0.1</text>
<text x="526.8" y="1652.2" font-size="24.5" font-weight="bold" textLength="54.2" lengthAdjust="spacingAndGlyphs">0.05</text>
<text x="497.8" y="1702" font-size="24.5" font-weight="bold" textLength="54.1" lengthAdjust="spacingAndGlyphs">0.02</text>
<text x="480.4" y="1736" font-size="24.5" font-weight="bold" textLength="54.9" lengthAdjust="spacingAndGlyphs">0.01</text>
<text x="519.6" y="1766.8" font-size="24.5" font-weight="bold" textLength="151.0" lengthAdjust="spacingAndGlyphs">Single pulse</text>
<text x="1719.1" y="1950" font-size="33.5" fill="#1a1a1a" textLength="322.1" lengthAdjust="spacingAndGlyphs">Duty factor D=t1/t2</text>
<text x="1721.4" y="1999.8" font-size="33.5" fill="#1a1a1a" textLength="296.5" lengthAdjust="spacingAndGlyphs">T<tspan font-size="21" dy="7">JM</tspan><tspan dy="-7">-T</tspan><tspan font-size="21" dy="7">C</tspan><tspan dy="-7">=P</tspan><tspan font-size="21" dy="7">DM</tspan><tspan dy="-7">*Z</tspan><tspan font-size="21" dy="7">thJC</tspan><tspan dy="-7">(t)</tspan></text>
<g stroke="#0c0c0c" fill="none">
<path d="M1723.7,1531.7H1790.1M1710.2,1581.5H1802M1891,1581.5H2014" stroke-width="2.6"/>
<path d="M1802.3,1583.4V1532H1889.8V1583.4" stroke-width="3.8" stroke-linejoin="miter"/>
<path d="M2015.6,1583.4V1532H2105.5" stroke-width="3.6" stroke-linejoin="miter"/>
<path d="M1802.3,1586.6V1645M1889.8,1586.6V1619.3M2015.6,1586.4V1645" stroke-width="4"/>
<path d="M1815,1600.1H1833.5M1862,1600.1H1875M1815,1634H1901.3M1934.8,1634.2H1999M1749.9,1539V1545M1749.9,1572.4V1575" stroke-width="1.2"/>
<path d="M1749.9,1545V1549" stroke-width="1.2" stroke-dasharray="2 2"/>
</g>
<g fill="#0c0c0c">
<polygon points="1804.4,1600.1 1819.3,1597.7 1819.3,1602.5"/><polygon points="1887.7,1600.1 1870.8,1597.7 1870.8,1602.5"/>
<polygon points="1804.4,1634 1819.3,1631.6 1819.3,1636.4"/><polygon points="2013.3,1634.2 1995.4,1631.8 1995.4,1636.6"/>
<polygon points="1749.9,1533.2 1747.4,1541.5 1752.4,1541.5"/><polygon points="1749.9,1580.3 1747.4,1572 1752.4,1572"/>
</g>
<text x="1720.2" y="1558.8" font-size="18.2" fill="#0c0c0c" textLength="22" lengthAdjust="spacingAndGlyphs">P</text>
<text x="1745.6" y="1562.2" font-size="17" fill="#0c0c0c" textLength="49.5" lengthAdjust="spacingAndGlyphs">DM</text>
<text x="1833.2" y="1603.5" font-size="18.5" fill="#0c0c0c" textLength="9.5" lengthAdjust="spacingAndGlyphs">t</text><text x="1846.6" y="1604.9" font-size="13.4" fill="#0c0c0c" textLength="13" lengthAdjust="spacingAndGlyphs">1</text>
<text x="1901.6" y="1638.1" font-size="18.5" fill="#0c0c0c" textLength="9.5" lengthAdjust="spacingAndGlyphs">t</text><text x="1914.5" y="1640.1" font-size="15.4" fill="#0c0c0c" textLength="18.5" lengthAdjust="spacingAndGlyphs">2</text>
</g>
<g id="footer">
<text x="230.8" y="3387.8" font-size="37.5" textLength="200.1" lengthAdjust="spacingAndGlyphs">Rev Formal</text>
<text x="872.8" y="3388" font-size="37.5" textLength="731.1" lengthAdjust="spacingAndGlyphs">©ChongQing PingWei Enterprise CO., LTD</text>
<text x="2124.4" y="3387.6" font-size="37.5" textLength="121.4" lengthAdjust="spacingAndGlyphs">Page 6</text>
</g>
</svg>
</body></html>
